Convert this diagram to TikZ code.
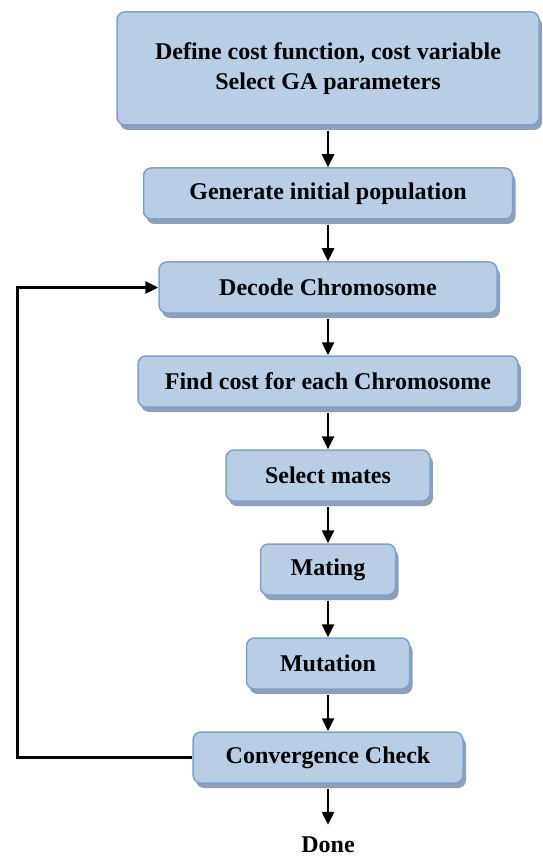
\documentclass[tikz,border=0pt]{standalone}
\usepackage{fontspec}
\setmainfont{Liberation Serif}
\usetikzlibrary{arrows.meta,positioning,shadows}
\definecolor{boxbg}{RGB}{185,205,229}
\definecolor{boxrule}{RGB}{126,161,206}
\definecolor{boxshade}{RGB}{142,159,182}

\begin{document}
\begin{tikzpicture}[
  node distance=41.5pt,>={Triangle[width=12pt,length=13pt]},
  box/.style={draw=boxrule,fill=boxbg,line width=1.5pt,rounded corners=8pt,align=center,
              inner sep=0pt,minimum height=51pt,font=\fontsize{24}{30}\selectfont\bfseries,
              drop shadow={shadow xshift=3pt,shadow yshift=-5pt,fill=boxshade,opacity=1}},
  endtext/.style={inner xsep=0pt,inner ysep=12pt,font=\fontsize{24}{30}\selectfont\bfseries},
  flow/.style={->,line width=2.5pt,shorten <=5pt}]
  \useasboundingbox (0,0) rectangle (542pt,-858pt);
  \node[box,minimum width=422pt,minimum height=113pt](define) at (328pt,-68.5pt)
    {Define cost function, cost variable\\Select GA parameters};
  \node[box,minimum width=369pt,below=of define](gen){Generate initial population};
  \node[box,minimum width=338pt,below=of gen](decode){Decode Chromosome};
  \node[box,minimum width=380pt,below=of decode](cost){Find cost for each Chromosome};
  \node[box,minimum width=204pt,below=of cost](mates){Select mates};
  \node[box,minimum width=135pt,below=of mates](mating){Mating};
  \node[box,minimum width=163pt,below=of mating](mutation){Mutation};
  \node[box,minimum width=270pt,below=of mutation](conv){Convergence Check};
  \node[endtext,below=41pt of conv](done){Done};
  \coordinate (back) at (17pt,-757pt);
  \draw[flow](define)--(gen);
  \draw[flow](gen)--(decode);
  \draw[flow](decode)--(cost);
  \draw[flow](cost)--(mates);
  \draw[flow](mates)--(mating);
  \draw[flow](mating)--(mutation);
  \draw[flow](mutation)--(conv);
  \draw[flow](conv)--(done);
  \draw[->,line width=3pt](conv.west)--(conv.west -| back)|-(decode.west);
\end{tikzpicture}
\end{document}
